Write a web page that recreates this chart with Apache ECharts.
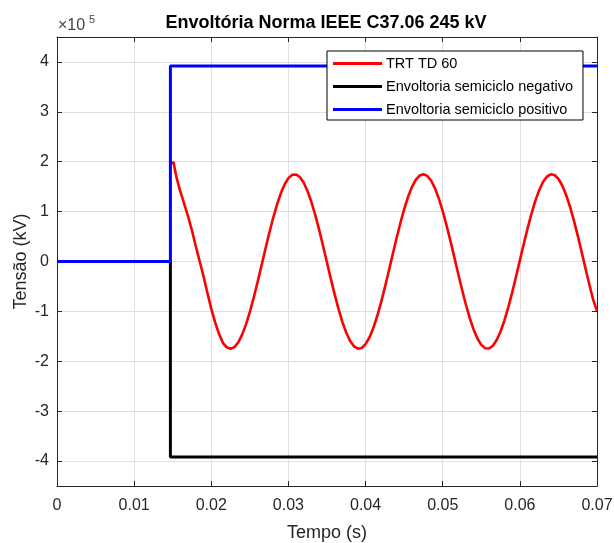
<!DOCTYPE html>
<html>
<head>
<meta charset="utf-8">
<script src="https://cdn.jsdelivr.net/npm/echarts@6/dist/echarts.min.js"></script>
<style>
html,body{margin:0;padding:0;background:#fff;}
#c{width:614px;height:543px;}
</style>
</head>
<body>
<div id="c"></div>
<script>
// ---- data ----
const seriesNames = ['TRT TD 60', 'Envoltoria semiciclo negativo', 'Envoltoria semiciclo positivo'];
const xTicks = [0, 0.01, 0.02, 0.03, 0.04, 0.05, 0.06, 0.07];
const yTicks = [-400000, -300000, -200000, -100000, 0, 100000, 200000, 300000, 400000];

const trtTime = [0.0148, 0.0151, 0.0153, 0.0155, 0.0159, 0.0165, 0.0170, 0.0175, 0.0180, 0.0185,
  0.0190, 0.0195, 0.0200, 0.0205, 0.0210, 0.0215, 0.0220, 0.0225, 0.0230, 0.0235,
  0.0240, 0.0245, 0.0250, 0.0255, 0.0260, 0.0265, 0.0270, 0.0275, 0.0280, 0.0285,
  0.0290, 0.0295, 0.0300, 0.0305, 0.0310, 0.0315, 0.0320, 0.0325, 0.0330, 0.0335,
  0.0340, 0.0345, 0.0350, 0.0355, 0.0360, 0.0365, 0.0370, 0.0375, 0.0380, 0.0385,
  0.0390, 0.0395, 0.0400, 0.0405, 0.0410, 0.0415, 0.0420, 0.0425, 0.0430, 0.0435,
  0.0440, 0.0445, 0.0450, 0.0455, 0.0460, 0.0465, 0.0470, 0.0475, 0.0480, 0.0485,
  0.0490, 0.0495, 0.0500, 0.0505, 0.0510, 0.0515, 0.0520, 0.0525, 0.0530, 0.0535,
  0.0540, 0.0545, 0.0550, 0.0555, 0.0560, 0.0565, 0.0570, 0.0575, 0.0580, 0.0585,
  0.0590, 0.0595, 0.0600, 0.0605, 0.0610, 0.0615, 0.0620, 0.0625, 0.0630, 0.0635,
  0.0640, 0.0645, 0.0650, 0.0655, 0.0660, 0.0665, 0.0670, 0.0675, 0.0680, 0.0685,
  0.0690, 0.0695, 0.0700];
const trtVolt = [197000, 199000, 195000, 168000, 145000, 115000, 90000, 62000, 30000, 0,
  -30000, -63000, -95000, -122000, -145000, -163000, -172000, -175000, -171500, -162000,
  -146600, -126000, -101000, -72500, -41400, -8800, 24100, 56200, 86200, 113200,
  136200, 154400, 167100, 173900, 174500, 168900, 157400, 140300, 118200, 91900,
  62400, 30600, -2200, -34900, -66500, -95600, -121400, -142900, -159300, -170000,
  -174800, -173300, -165700, -152300, -133400, -109800, -82400, -52000, -19800, 13200,
  45600, 76500, 104700, 129100, 148900, 163500, 172300, 175000, 171500, 161900,
  146600, 126000, 101100, 72500, 41400, 8800, -24100, -56200, -86200, -113200,
  -136200, -154400, -167100, -173900, -174500, -168900, -157400, -140300, -118200, -91900,
  -62400, -30600, 2200, 34900, 66500, 95600, 121400, 142900, 159300, 170000,
  174800, 173300, 165700, 152300, 133400, 109800, 82400, 52000, 19800, -13200,
  -45600, -76500, -99000];

const envTime = [0, 0.0147, 0.0147, 0.07];
const envNeg = [0, 0, -392000, -392000];
const envPos = [0, 0, 392000, 392000];

const zip = (a, b) => a.map((v, i) => [v, b[i]]);

const axisColor = '#262626';
const gridColor = '#e0e0e0';
const font = 'Liberation Sans, Arial, Helvetica, sans-serif';

const chart = echarts.init(document.getElementById('c'), null, {renderer: 'canvas'});

const xBase = {
  type: 'value', min: 0, max: 0.07, interval: 0.01,
  axisLine: {show: true, onZero: false, lineStyle: {color: axisColor, width: 1}},
  axisTick: {show: true, inside: true, length: 5, lineStyle: {color: axisColor}},
  splitLine: {show: false}
};
const yBase = {
  type: 'value', min: -450000, max: 450000,
  axisLine: {show: true, onZero: false, lineStyle: {color: axisColor, width: 1}},
  axisTick: {show: true, inside: true, length: 5, customValues: yTicks, lineStyle: {color: axisColor}},
  splitLine: {show: false}
};

chart.setOption({
  animation: false,
  backgroundColor: '#ffffff',
  title: {
    text: 'Envoltória Norma IEEE C37.06 245 kV',
    left: 321, top: 9, textAlign: 'center',
    textStyle: {fontFamily: font, fontSize: 18, fontWeight: 'bold', color: '#000'}
  },
  grid: {left: 57, right: 17, top: 37, bottom: 57, show: false, outerBoundsMode: 'none', containLabel: false},
  legend: {
    orient: 'vertical', left: 327, top: 51, z: 20,
    data: seriesNames,
    icon: 'rect',
    backgroundColor: '#fff', borderColor: '#000', borderWidth: 1, borderRadius: 0,
    padding: [5, 10, 3, 6], itemGap: 8, itemWidth: 49, itemHeight: 3,
    textStyle: {fontFamily: font, fontSize: 14.5, color: '#000', padding: [0, 0, 0, -1]}
  },
  graphic: [
    {type: 'text', left: 58, top: 17.5, z: 20, style: {text: '×10', fontFamily: font, fontSize: 16, fill: '#444'}},
    {type: 'text', left: 89, top: 14.5, z: 20, style: {text: '5', fontFamily: font, fontSize: 11, fill: '#444'}}
  ],
  xAxis: [
    Object.assign({}, xBase, {
      position: 'bottom',
      name: 'Tempo (s)', nameLocation: 'middle', nameGap: 38, nameMoveOverlap: false,
      nameTextStyle: {fontFamily: font, fontSize: 18, color: axisColor},
      axisLabel: {show: true, margin: 12, fontFamily: font, fontSize: 16, color: axisColor,
        formatter: v => (Math.abs(v) < 1e-9 ? '0' : v.toFixed(2))},
      splitLine: {show: true, lineStyle: {color: gridColor, width: 1}}
    }),
    Object.assign({}, xBase, {position: 'top', axisLabel: {show: false}})
  ],
  yAxis: [
    Object.assign({}, yBase, {
      position: 'left',
      name: 'Tensão (kV)', nameLocation: 'middle', nameGap: 27, nameMoveOverlap: false,
      nameTextStyle: {fontFamily: font, fontSize: 18, color: axisColor},
      axisLabel: {show: true, margin: 8, customValues: yTicks, fontFamily: font, fontSize: 16, color: axisColor,
        formatter: v => String(Math.round(v / 100000))},
      splitLine: {show: true, lineStyle: {color: gridColor, width: 1}}
    }),
    Object.assign({}, yBase, {position: 'right', axisLabel: {show: false}})
  ],
  series: [
    {
      name: seriesNames[0], type: 'line', xAxisIndex: 0, yAxisIndex: 0,
      data: zip(trtTime, trtVolt), showSymbol: false, symbol: 'none',
      lineStyle: {color: '#ff0000', width: 2.6}, itemStyle: {color: '#ff0000'}, z: 3
    },
    {
      name: seriesNames[1], type: 'line', xAxisIndex: 0, yAxisIndex: 0,
      data: zip(envTime, envNeg), showSymbol: false, symbol: 'none',
      lineStyle: {color: '#000000', width: 3}, itemStyle: {color: '#000000'}, z: 4
    },
    {
      name: seriesNames[2], type: 'line', xAxisIndex: 0, yAxisIndex: 0,
      data: zip(envTime, envPos), showSymbol: false, symbol: 'none',
      lineStyle: {color: '#0000ff', width: 3}, itemStyle: {color: '#0000ff'}, z: 5
    }
  ]
});
</script>
</body>
</html>
